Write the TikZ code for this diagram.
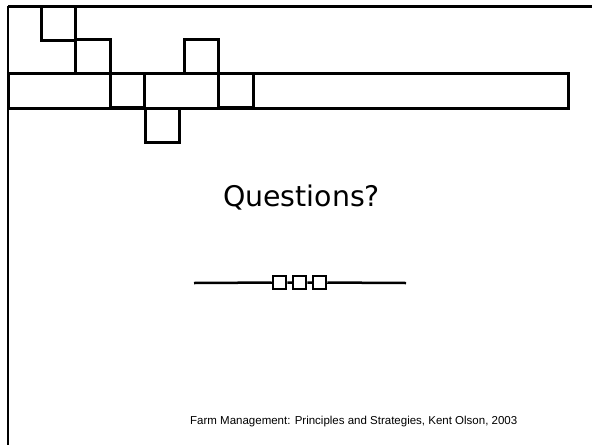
\documentclass[tikz,border=0pt]{standalone}
\usepackage{fontspec}
\setmainfont{Liberation Sans}
\newfontfamily\titlefont{DejaVu Sans}
\usetikzlibrary{calc}

\begin{document}
\begin{tikzpicture} [x=1pt, y=-1pt,
  tile/.style={black, line width=3},
  chain/.style={black, line width=2.5},
  link/.style={draw, black, line width=2, minimum size=13.5, inner sep=0, fill=white}]
\useasboundingbox (0,0) rectangle (592,445);
\coordinate (O) at (8,6);
\draw[black, line width=2.5] (O) -- (8,445);
\draw[tile] (O) -- (592,6);
\draw[tile] (8,73.5) rectangle (568,108);
\foreach \x/\y in {41/6, 75.5/39.5, 184/39.5, 110/73.5, 218.5/73.5, 145/108} {
 \draw[tile] (\x,\y) rectangle ++(34.5,34.2);
}
\node[anchor=base, inner sep=0] (title) at (301.5,206.5) {\titlefont\fontsize{28.4}{34}\selectfont Questions?};
\coordinate (lend) at (194,283);
\coordinate (rend) at (406,283);
\foreach \i/\x in {1/279.5, 2/299.5, 3/319.5} {
 \node[link] (b\i) at (\x,282.5) {};
}
\draw[chain] (lend) -- (b1) (b1) -- (b2) (b2) -- (b3) (b3) -- (rend);
\node[anchor=base west, inner sep=0] (credit) at (190,424) {\fontsize{11.5}{14}\selectfont Farm Management: Principles and Strategies, Kent Olson, 2003};
\end{tikzpicture}
\end{document}
